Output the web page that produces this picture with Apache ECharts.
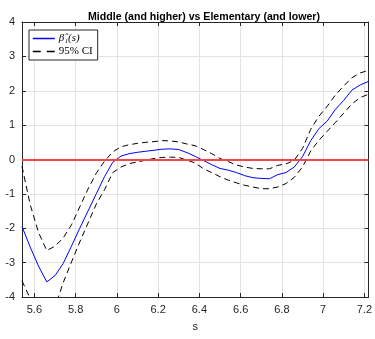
<!DOCTYPE html>
<html>
<head>
<meta charset="utf-8">
<title>Middle (and higher) vs Elementary (and lower)</title>
<script src="https://cdn.jsdelivr.net/npm/echarts@6/dist/echarts.min.js"></script>
<style>
    html, body { margin: 0; padding: 0; background: #fff; }
    .chart { width: 375px; height: 339px; }
</style>
</head>
<body>
<div class="chart" id="main"></div>
<script>
// s 取值 (横轴)
var sVals = [5.54, 5.58, 5.62, 5.66, 5.70, 5.74, 5.78, 5.82, 5.86, 5.90,
    5.94, 5.98, 6.02, 6.06, 6.10, 6.14, 6.18, 6.22, 6.26, 6.30,
    6.34, 6.38, 6.42, 6.46, 6.50, 6.54, 6.58, 6.62, 6.66, 6.70,
    6.74, 6.78, 6.82, 6.86, 6.90, 6.94, 6.98, 7.02, 7.06, 7.10,
    7.14, 7.18, 7.22];
// 估计值 beta_1(s)
var betaVals = [-1.95, -2.55, -3.10, -3.56, -3.38, -3.02, -2.52, -2.00, -1.50, -1.00,
    -0.50, -0.08, 0.10, 0.17, 0.21, 0.24, 0.27, 0.30, 0.31, 0.29,
    0.20, 0.09, -0.03, -0.15, -0.26, -0.31, -0.38, -0.47, -0.53, -0.55,
    -0.56, -0.44, -0.38, -0.22, 0.08, 0.55, 0.90, 1.12, 1.46, 1.72,
    2.02, 2.17, 2.27];
// 95% 置信区间 上界
var upperVals = [-0.20, -1.32, -2.12, -2.65, -2.52, -2.28, -1.90, -1.38, -0.86, -0.40,
    -0.05, 0.22, 0.37, 0.43, 0.47, 0.50, 0.52, 0.55, 0.54, 0.51,
    0.45, 0.40, 0.29, 0.17, 0.03, -0.06, -0.16, -0.22, -0.26, -0.27,
    -0.27, -0.17, -0.13, -0.02, 0.32, 0.88, 1.26, 1.55, 1.88, 2.14,
    2.38, 2.52, 2.59];
// 95% 置信区间 下界
var lowerVals = [-3.53, -4.05, -4.38, -4.50, -4.30, -3.58, -2.98, -2.40, -1.85, -1.30,
    -0.88, -0.38, -0.22, -0.12, -0.07, -0.02, 0.03, 0.06, 0.07, 0.06,
    -0.02, -0.10, -0.27, -0.38, -0.50, -0.60, -0.68, -0.75, -0.80, -0.85,
    -0.85, -0.80, -0.70, -0.52, -0.22, 0.25, 0.56, 0.82, 1.08, 1.35,
    1.62, 1.80, 1.90];
// 刻度
var xTicks = [5.6, 5.8, 6, 6.2, 6.4, 6.6, 6.8, 7, 7.2];
var xRange = [5.54, 7.22];
var yRange = [-4, 4];

var betaName = 'β̂₁(s)';
var ciName = '95% CI';

(function () {
    var myChart = echarts.init(document.getElementById('main'));

    // 把 s 和 y 配成点
    function pairs(ys) {
        return sVals.map(function (s, i) {
            return [s, ys[i]];
        });
    }

    var axisColor = '#262626';
    var gridColor = '#e3e3e3';
    var sansFont = 'Liberation Sans, Arial, sans-serif';
    var serifFont = 'Liberation Serif, DejaVu Serif, serif';

    // x 轴公共部分
    function xAxisOf(pos, showLabel) {
        return {
            type: 'value',
            position: pos,
            min: xRange[0],
            max: xRange[1],
            axisLine: { show: true, onZero: false, lineStyle: { color: axisColor, width: 1 } },
            axisTick: { show: true, inside: true, length: 4, customValues: xTicks, lineStyle: { color: axisColor } },
            axisLabel: {
                show: showLabel,
                customValues: xTicks,
                color: axisColor,
                fontSize: 11,
                fontFamily: sansFont,
                margin: 7
            },
            splitLine: { show: showLabel, lineStyle: { color: gridColor } }
        };
    }

    // y 轴公共部分
    function yAxisOf(pos, showLabel) {
        return {
            type: 'value',
            position: pos,
            min: yRange[0],
            max: yRange[1],
            interval: 1,
            axisLine: { show: true, onZero: false, lineStyle: { color: axisColor, width: 1 } },
            axisTick: { show: true, inside: true, length: 4, lineStyle: { color: axisColor } },
            axisLabel: {
                show: showLabel,
                color: axisColor,
                fontSize: 11,
                fontFamily: sansFont,
                margin: 7
            },
            splitLine: { show: showLabel, lineStyle: { color: gridColor } }
        };
    }

    var bottomAxis = xAxisOf('bottom', true);
    bottomAxis.name = 's';
    bottomAxis.nameLocation = 'middle';
    bottomAxis.nameGap = 24;
    bottomAxis.nameTextStyle = { color: axisColor, fontSize: 11, fontFamily: sansFont };

    var option = {
        animation: false,
        backgroundColor: '#fff',
        title: {
            text: 'Middle (and higher) vs Elementary (and lower)',
            left: 83,
            top: 7,
            textStyle: { color: '#000', fontSize: 10.6, fontWeight: 'bold', fontFamily: sansFont }
        },
        legend: {
            orient: 'vertical',
            left: 29,
            top: 30,
            data: [
                { name: betaName, lineStyle: { width: 1.5 } },
                { name: ciName, lineStyle: { width: 1.5, type: [8, 6] } }
            ],
            backgroundColor: '#fff',
            borderColor: axisColor,
            borderWidth: 1,
            borderRadius: 0,
            padding: [3, 5, 3, 3],
            itemGap: 2,
            itemWidth: 22,
            itemHeight: 10,
            // 图例里只要线, 不要圆点
            itemStyle: { opacity: 0 },
            formatter: function (name) {
                return name === betaName ? '{it|' + name + '}' : name;
            },
            textStyle: {
                color: '#000',
                fontSize: 11,
                fontFamily: serifFont,
                padding: [0, 0, 0, -1],
                rich: {
                    it: { fontStyle: 'italic', fontSize: 11, fontFamily: serifFont, color: '#000' }
                }
            }
        },
        grid: {
            left: 22,
            right: 6,
            top: 22,
            bottom: 42
        },
        xAxis: [bottomAxis, xAxisOf('top', false)],
        yAxis: [yAxisOf('left', true), yAxisOf('right', false)],
        series: [
            {
                name: betaName,
                type: 'line',
                symbol: 'none',
                data: pairs(betaVals),
                lineStyle: { color: '#0000ff', width: 1 },
                itemStyle: { color: '#0000ff' },
                z: 3
            },
            {
                name: ciName,
                type: 'line',
                symbol: 'none',
                data: pairs(upperVals),
                lineStyle: { color: '#000', width: 1, type: [6, 4] },
                itemStyle: { color: '#000' },
                z: 3
            },
            {
                name: ciName,
                type: 'line',
                symbol: 'none',
                data: pairs(lowerVals),
                lineStyle: { color: '#000', width: 1, type: [6, 4] },
                itemStyle: { color: '#000' },
                z: 3,
                // 零参考线
                markLine: {
                    silent: true,
                    symbol: 'none',
                    label: { show: false },
                    lineStyle: { color: '#f04848', width: 2, type: 'solid' },
                    data: [{ yAxis: 0 }]
                }
            }
        ]
    };

    myChart.setOption(option);
    window.addEventListener('resize', function () {
        myChart.resize();
    });
})();
</script>
</body>
</html>
